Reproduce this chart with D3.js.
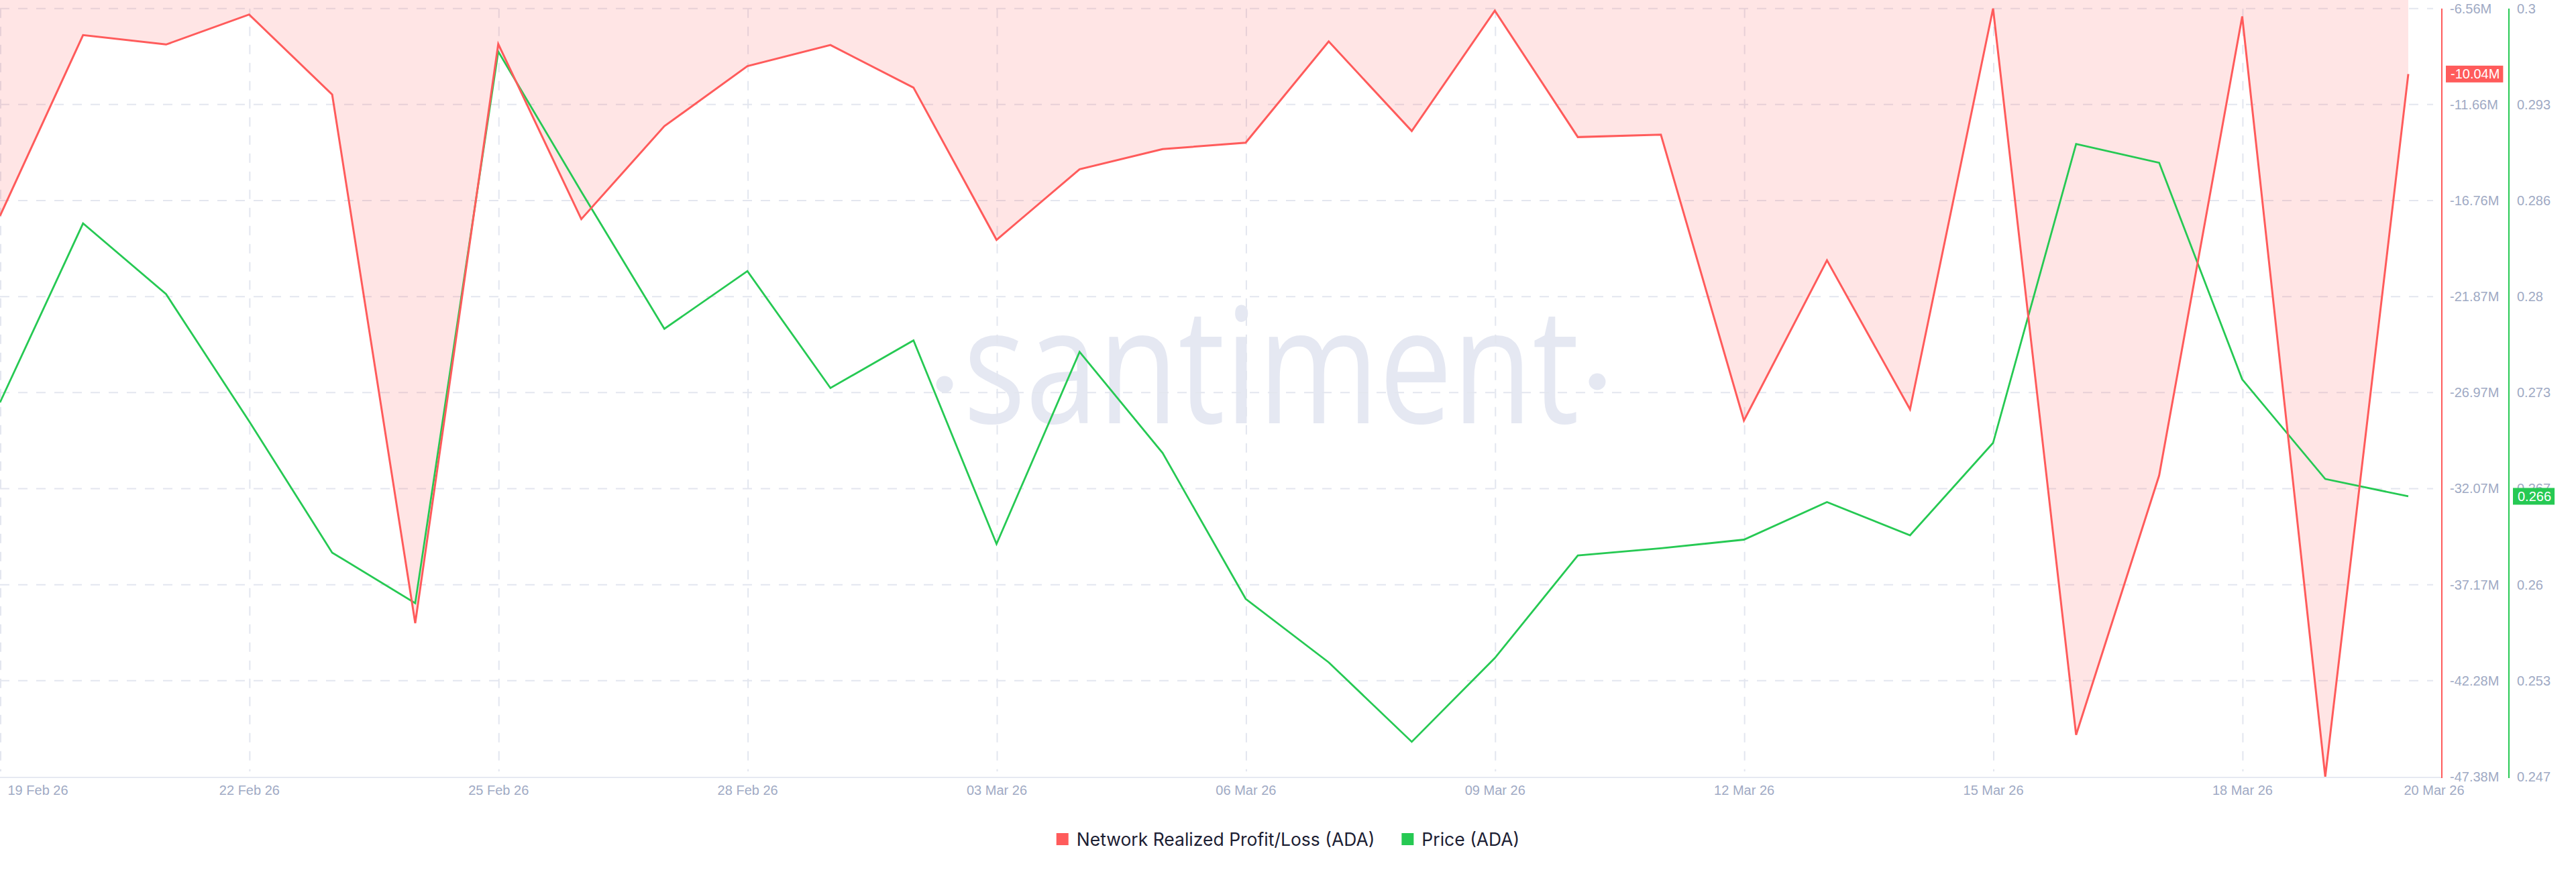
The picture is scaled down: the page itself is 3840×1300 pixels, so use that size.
<!DOCTYPE html>
<html><head><meta charset="utf-8">
<script src="https://cdn.jsdelivr.net/npm/d3@7"></script>
<style>html,body{margin:0;padding:0;background:#fff;} svg{display:block;}</style>
</head><body><svg id="c" width="3840" height="1300"></svg>
<script>
const dates = ["2026-02-19","2026-02-20","2026-02-21","2026-02-22","2026-02-23","2026-02-24","2026-02-25","2026-02-26","2026-02-27","2026-02-28",
  "2026-03-01","2026-03-02","2026-03-03","2026-03-04","2026-03-05","2026-03-06","2026-03-07","2026-03-08","2026-03-09","2026-03-10",
  "2026-03-11","2026-03-12","2026-03-13","2026-03-14","2026-03-15","2026-03-16","2026-03-17","2026-03-18","2026-03-19","2026-03-20"];
const profitLossM = [-17.58,-7.97,-8.47,-6.88,-11.13,-39.22,-8.45,-17.75,-12.81,-9.62,
  -8.50,-10.76,-18.85,-15.10,-14.03,-13.69,-8.31,-13.07,-6.67,-13.39,
  -13.26,-28.45,-19.94,-27.86,-6.56,-45.15,-31.37,-6.98,-47.38,-10.04];
const priceADA = [0.2725,0.2849,0.2800,0.2712,0.2621,0.2586,0.2968,0.2871,0.2776,0.2816,
  0.2735,0.2768,0.2627,0.2760,0.2690,0.2589,0.2545,0.2490,0.2548,0.2619,
  0.2624,0.2630,0.2656,0.2633,0.2697,0.2904,0.2891,0.2741,0.2672,0.2660];
const xTickDates = ["2026-02-19","2026-02-22","2026-02-25","2026-02-28","2026-03-03","2026-03-06","2026-03-09","2026-03-12","2026-03-15","2026-03-18","2026-03-20"];
const plTickValues = [-6.559,-11.6615,-16.764,-21.8665,-26.969,-32.0715,-37.174,-42.2765,-47.379];
const plTickLabels = ["-6.56M","-11.66M","-16.76M","-21.87M","-26.97M","-32.07M","-37.17M","-42.28M","-47.38M"];
const priceTickValues = [0.29978,0.29313,0.28648,0.27983,0.27318,0.26653,0.25988,0.25323,0.24658];
const priceTickLabels = ["0.3","0.293","0.286","0.28","0.273","0.267","0.26","0.253","0.247"];
const seriesNames = ["Network Realized Profit/Loss (ADA)","Price (ADA)"];
const lastLabels = ["-10.04M","0.266"];

const RED = "#ff5b5b", GREEN = "#26c953", TICK = "#9faac4", GRID = "#e3e6ef";
const svg = d3.select("#c");
const parse = d3.utcParse("%Y-%m-%d");
const pts = dates.map((d,i)=>({date:parse(d), pl:profitLossM[i], price:priceADA[i]}));
const yTop = 12.7, yBottom = 1158;
const x = d3.scaleUtc().domain([parse(dates[0]), parse(dates[dates.length-1])]).range([0, 3590]);
const yPL = d3.scaleLinear().domain([plTickValues[plTickValues.length-1], plTickValues[0]]).range([yBottom, yTop]);
const yP = d3.scaleLinear().domain([priceTickValues[priceTickValues.length-1], priceTickValues[0]]).range([yBottom, yTop]);

// watermark
const wm = svg.append("g").attr("fill","#e5e8f2");
wm.append("text").attr("x",1895).attr("y",631).attr("text-anchor","middle")
  .attr("font-family","Open Sans, sans-serif").attr("font-size",240)
  .attr("textLength",918).attr("lengthAdjust","spacingAndGlyphs").text("santiment");
wm.append("circle").attr("cx",1408).attr("cy",573).attr("r",12.5);
wm.append("circle").attr("cx",2381).attr("cy",569).attr("r",12.5);

// gridlines
const grid = svg.append("g").attr("stroke",GRID).attr("stroke-width",2).attr("stroke-dasharray","14,13");
grid.selectAll("line.h").data(plTickValues.slice(0,-1)).join("line").attr("class","h")
  .attr("x1",0).attr("x2",3627).attr("y1",d=>yPL(d)).attr("y2",d=>yPL(d));
grid.selectAll("line.v").data(xTickDates.slice(0,-1)).join("line").attr("class","v")
  .attr("x1",d=>x(parse(d))+1).attr("x2",d=>x(parse(d))+1).attr("y1",yTop).attr("y2",1150);

// area fill (between 0 baseline and the line)
svg.append("path").datum(pts)
  .attr("d", d3.area().x(d=>x(d.date)).y0(yPL(0)).y1(d=>yPL(d.pl)))
  .attr("fill","rgba(255,91,91,0.16)");

// lines
svg.append("path").datum(pts)
  .attr("d", d3.line().x(d=>x(d.date)).y(d=>yP(d.price)))
  .attr("fill","none").attr("stroke",GREEN).attr("stroke-width",2.8);
svg.append("path").datum(pts)
  .attr("d", d3.line().x(d=>x(d.date)).y(d=>yPL(d.pl)))
  .attr("fill","none").attr("stroke",RED).attr("stroke-width",3);

// x axis
svg.append("line").attr("x1",0).attr("x2",3640).attr("y1",1159).attr("y2",1159).attr("stroke","#e6e9f2").attr("stroke-width",2);
const fmt = d3.utcFormat("%d %b %y");
const xa = svg.append("g").attr("transform","translate(0,1159)")
  .call(d3.axisBottom(x).tickValues(xTickDates.map(parse)).tickFormat(fmt).tickSize(0).tickPadding(12));
xa.select(".domain").remove();
xa.selectAll("text").attr("fill",TICK).attr("font-family","Liberation Sans, Arial, sans-serif").attr("font-size",20);
const xt = xa.selectAll(".tick text").nodes();
d3.select(xt[0]).attr("text-anchor","start").attr("dx",11);
d3.select(xt[xt.length-1]).attr("dx",38);

// right axes
function rightAxis(scale, vals, labels, xpos, color){
  const g = svg.append("g").attr("transform",`translate(${xpos},0)`)
    .call(d3.axisRight(scale).tickValues(vals).tickFormat((d,i)=>labels[i]).tickSize(0).tickPadding(12));
  g.select(".domain").attr("stroke",color).attr("stroke-width",2).attr("d",`M0,${yTop}V1160`);
  g.selectAll("text").attr("fill",TICK).attr("font-family","Liberation Sans, Arial, sans-serif").attr("font-size",20);
  return g;
}
rightAxis(yPL, plTickValues, plTickLabels, 3640, RED);
rightAxis(yP, priceTickValues, priceTickLabels, 3740, GREEN);

// last value badges
function badge(xpos, ycen, label, color){
  const g = svg.append("g");
  const r = g.append("rect").attr("fill",color);
  const t = g.append("text").attr("x",xpos+7).attr("y",ycen).attr("dy","0.35em")
    .attr("fill","#fff").attr("font-family","Liberation Sans, Arial, sans-serif").attr("font-size",20).text(label);
  const w = t.node().getComputedTextLength();
  r.attr("x",xpos).attr("y",ycen-12.5).attr("width",w+12).attr("height",25);
}
badge(3646, yPL(profitLossM[profitLossM.length-1]), lastLabels[0], RED);
badge(3746, yP(priceADA[priceADA.length-1]), lastLabels[1], GREEN);

// legend
const lg = svg.append("g");
const colors = [RED, GREEN];
let cx = 0;
seriesNames.forEach((n,i)=>{
  const it = lg.append("g");
  it.append("rect").attr("x",0).attr("y",1242).attr("width",18).attr("height",18).attr("fill",colors[i]);
  const t = it.append("text").attr("x",30).attr("y",1261).attr("fill","#1c2033")
    .attr("font-family","Inter, sans-serif").attr("font-size",26.5).text(n);
  const w = 30 + t.node().getComputedTextLength();
  it.attr("transform",`translate(${cx},0)`);
  cx += w + 40;
});
const total = cx - 40;
lg.attr("transform",`translate(${1920-total/2},0)`);
</script></body></html>
